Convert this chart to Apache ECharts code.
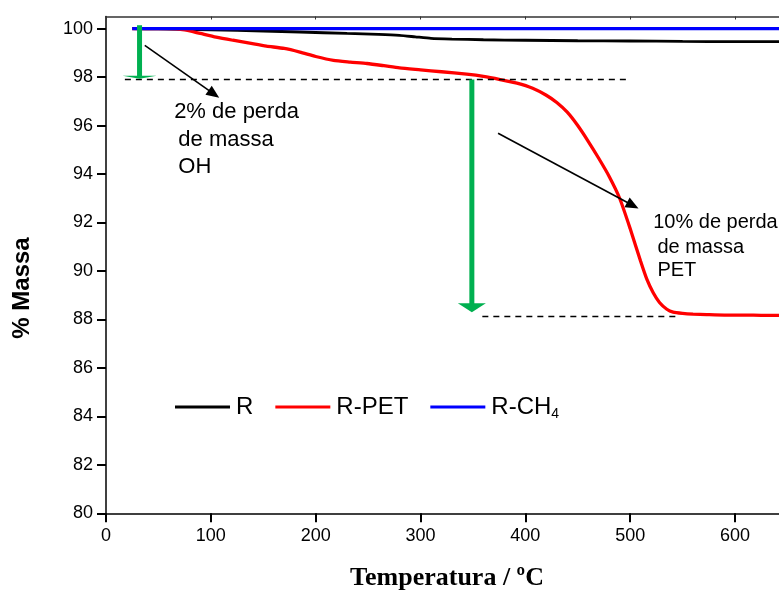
<!DOCTYPE html>
<html>
<head>
<meta charset="utf-8">
<script src="https://cdn.jsdelivr.net/npm/echarts@6/dist/echarts.min.js"></script>
<style>
  html, body { margin: 0; padding: 0; background: #fff; }
  #chart { width: 779px; height: 591px; }
</style>
</head>
<body>
<div id="chart"></div>
<script>
// Thermogravimetric curves: mass (%) vs temperature (°C)
const tempR    = [25, 50, 100, 150, 185, 230, 260, 280, 295, 310, 330, 360, 400, 450, 500, 550, 600, 642];
const massR    = [100, 99.99, 99.95, 99.9, 99.86, 99.8, 99.76, 99.72, 99.66, 99.6, 99.57, 99.54, 99.52, 99.5, 99.49, 99.47, 99.46, 99.46];

const tempPET  = [25, 40, 58, 75, 90, 105, 121, 137, 153, 170, 185, 200, 217, 233, 249, 265, 280, 300, 320, 344, 360, 376, 392, 407, 420, 430, 440, 450, 460, 470, 480, 490, 500, 510, 516, 522, 528, 535, 541, 550, 560, 573, 590, 610, 625, 642];
const massPET  = [100, 100, 100, 99.95, 99.8, 99.65, 99.52, 99.4, 99.28, 99.18, 99.03, 98.85, 98.69, 98.62, 98.56, 98.47, 98.38, 98.3, 98.22, 98.12, 98.03, 97.9, 97.75, 97.54, 97.25, 96.95, 96.55, 96.0, 95.35, 94.65, 93.9, 93.0, 91.75, 90.4, 89.65, 89.1, 88.7, 88.42, 88.3, 88.25, 88.22, 88.2, 88.18, 88.18, 88.17, 88.17];

const tempCH4  = [25, 100, 200, 300, 400, 500, 600, 642];
const massCH4  = [100, 100, 100, 100, 100, 100, 100, 100];

const seriesNames = ['R', 'R-PET', 'R-CH4'];
const xTicks = [0, 100, 200, 300, 400, 500, 600];
const yTicks = [80, 82, 84, 86, 88, 90, 92, 94, 96, 98, 100];

// Annotation anchors in data units (temperature, mass)
const lossOH  = { temp: 32, from: 100.14, to: 97.93 };
const lossPET = { temp: 349, from: 97.9, to: 88.3 };
const guideUpper = { from: 18, to: 497, mass: 97.9 };
const guideLower = { from: 359, to: 544, mass: 88.12 };
const pointerOH  = { from: [37, 99.31], to: [108, 97.15] };
const pointerPET = { from: [374, 95.68], to: [508, 92.58] };
const noteOH  = [ { text: '2% de perda', at: [65, 96.55] }, { text: 'de massa', at: [69, 95.39] }, { text: 'OH', at: [69, 94.28] } ];
const notePET = [ { text: '10% de perda', at: [522, 92.01] }, { text: 'de massa', at: [526, 90.98] }, { text: 'PET', at: [526, 90.03] } ];

const pairs = (xs, ys) => xs.map((x, i) => [x, ys[i]]);

const chart = echarts.init(document.getElementById('chart'), null, { renderer: 'canvas' });

const FONT = 'Liberation Sans, Arial, sans-serif';
const GREEN = '#00b050';

chart.setOption({
  animation: false,
  backgroundColor: '#ffffff',
  grid: { left: 106, top: 16.5, right: 0, bottom: 77.7, containLabel: false },
  legend: {
    data: seriesNames,
    left: 175, top: 395, padding: 0,
    icon: 'rect',
    itemWidth: 55, itemHeight: 3, itemGap: 22,
    textStyle: {
      fontFamily: FONT, fontSize: 24, color: '#000', padding: [0, 0, 0, 1],
      rich: { sub: { fontFamily: FONT, fontSize: 14, color: '#000', padding: [14, 0, 0, 0] } }
    },
    formatter: n => n === 'R-CH4' ? 'R-CH{sub|4}' : n
  },
  xAxis: [{
    type: 'value', min: 0, max: 642, interval: 100,
    axisLine: { onZero: false, lineStyle: { color: '#000', width: 1.5 } },
    axisTick: { show: true, inside: false, length: 9, lineStyle: { color: '#000', width: 2 } },
    axisLabel: { fontFamily: FONT, fontSize: 18, color: '#000', margin: 14, showMaxLabel: false,
      formatter: v => xTicks.includes(v) ? String(v) : '' },
    splitLine: { show: false }
  }, {
    type: 'value', position: 'top', min: 0, max: 642, interval: 100,
    axisLine: { show: true, onZero: false, lineStyle: { color: '#333', width: 1.5 } },
    axisTick: { show: true, inside: true, length: 3, lineStyle: { color: '#333', width: 1 } },
    axisLabel: { show: false }, splitLine: { show: false }
  }],
  yAxis: {
    type: 'value', min: 80, max: 100.5, interval: 2,
    axisLine: { show: true, onZero: false, lineStyle: { color: '#000', width: 1.5 } },
    axisTick: { show: true, inside: false, length: 9, lineStyle: { color: '#000', width: 2 } },
    axisLabel: { fontFamily: FONT, fontSize: 18, color: '#000', margin: 13, showMaxLabel: false,
      formatter: v => yTicks.includes(v) ? String(v) : '' },
    splitLine: { show: false }
  },
  series: [
    { name: 'R', type: 'line', data: pairs(tempR, massR), symbol: 'none', smooth: 0.2,
      lineStyle: { color: '#000', width: 2.8 }, itemStyle: { color: '#000' } },
    { name: 'R-PET', type: 'line', data: pairs(tempPET, massPET), symbol: 'none', smooth: 0.2,
      lineStyle: { color: '#ff0000', width: 3.3 }, itemStyle: { color: '#ff0000' } },
    { name: 'R-CH4', type: 'line', data: pairs(tempCH4, massCH4), symbol: 'none',
      lineStyle: { color: '#0000ff', width: 3.3 }, itemStyle: { color: '#0000ff' } }
  ]
});

// Overlay: guide lines, arrows, notes and axis titles
const px = p => chart.convertToPixel({ xAxisIndex: 0, yAxisIndex: 0 }, p);
const g = [];

function dashed(seg) {
  const a = px([seg.from, seg.mass]), b = px([seg.to, seg.mass]);
  g.push({ type: 'line', shape: { x1: a[0], y1: a[1], x2: b[0], y2: b[1] },
    style: { stroke: '#000', lineWidth: 1.3, lineDash: [6, 5] }, z: 5 });
}
function pointer(seg) {
  const a = px(seg.from), b = px(seg.to);
  const dx = b[0] - a[0], dy = b[1] - a[1], L = Math.hypot(dx, dy);
  const ux = dx / L, uy = dy / L, hl = 13, hw = 5.5;
  const bx = b[0] - ux * hl, by = b[1] - uy * hl;
  g.push({ type: 'line', shape: { x1: a[0], y1: a[1], x2: bx + ux * 2, y2: by + uy * 2 },
    style: { stroke: '#000', lineWidth: 1.6 }, z: 6 });
  g.push({ type: 'polygon', shape: { points: [[b[0], b[1]], [bx - uy * hw, by + ux * hw], [bx + uy * hw, by - ux * hw]] },
    style: { fill: '#000' }, z: 6 });
}
function drop(seg, headW, headH) {
  const top = px([seg.temp, seg.from]), tip = px([seg.temp, seg.to]);
  const baseY = tip[1] - headH;
  g.push({ type: 'line', shape: { x1: top[0], y1: top[1], x2: top[0], y2: baseY + 1 },
    style: { stroke: GREEN, lineWidth: 5 }, z: 7 });
  g.push({ type: 'polygon', shape: { points: [[tip[0] - headW / 2, baseY], [tip[0] + headW / 2, baseY], [tip[0], tip[1]]] },
    style: { fill: GREEN }, z: 7 });
}
function note(lines, size) {
  lines.forEach(l => {
    const p = px(l.at);
    g.push({ type: 'text', x: p[0], y: p[1],
      style: { text: l.text, fill: '#000', font: size + 'px ' + FONT, textAlign: 'left', textVerticalAlign: 'middle' }, z: 8 });
  });
}

dashed(guideUpper);
dashed(guideLower);
drop(lossOH, 34, 3);
drop(lossPET, 28, 9);
pointer(pointerOH);
pointer(pointerPET);
note(noteOH, 22);
note(notePET, 20);

g.push({ type: 'text', x: 447, y: 578,
  style: { text: 'Temperatura / ºC', fill: '#000', font: 'bold 26px Liberation Serif, Times New Roman, serif',
    textAlign: 'center', textVerticalAlign: 'middle' } });
g.push({ type: 'text', x: 22, y: 288, rotation: Math.PI / 2,
  style: { text: '% Massa', fill: '#000', font: 'bold 24px ' + FONT,
    textAlign: 'center', textVerticalAlign: 'middle' } });

chart.setOption({ graphic: { elements: g } });
</script>
</body>
</html>
